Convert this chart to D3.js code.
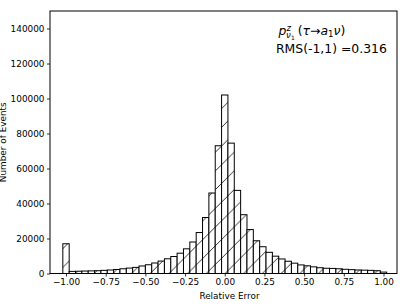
<!DOCTYPE html>
<html>
<head>
<meta charset="utf-8">
<script src="https://cdn.jsdelivr.net/npm/d3@7"></script>
<style>
  html, body { margin: 0; padding: 0; background: #fff; }
  svg { display: block; }
  text { font-family: "DejaVu Sans", sans-serif; }
</style>
</head>
<body>
<script>
// ---- data ----
const binCenters = [-1.00, -0.96, -0.92, -0.88, -0.84, -0.80, -0.76, -0.72, -0.68, -0.64,
  -0.60, -0.56, -0.52, -0.48, -0.44, -0.40, -0.36, -0.32, -0.28, -0.24,
  -0.20, -0.16, -0.12, -0.08, -0.04, 0.00, 0.04, 0.08, 0.12, 0.16,
  0.20, 0.24, 0.28, 0.32, 0.36, 0.40, 0.44, 0.48, 0.52, 0.56,
  0.60, 0.64, 0.68, 0.72, 0.76, 0.80, 0.84, 0.88, 0.92, 0.96, 1.00];
const counts = [17000, 1200, 1300, 1400, 1500, 1600, 1800, 2000, 2300, 2700,
  3100, 3500, 4300, 5000, 6000, 7100, 8400, 9700, 11600, 14100,
  18000, 23400, 32000, 46000, 73000, 102000, 74500, 47500, 33600, 25100,
  18700, 15300, 12100, 9900, 8300, 7000, 5900, 4900, 4400, 3800,
  3300, 3000, 2900, 2700, 2400, 2200, 2000, 1900, 1800, 1600, 800];
const binWidth = 0.04;
const xTicks = [-1.00, -0.75, -0.50, -0.25, 0.00, 0.25, 0.50, 0.75, 1.00];
const yTicks = [0, 20000, 40000, 60000, 80000, 100000, 120000, 140000];
const xLabel = "Relative Error";
const yLabel = "Number of Events";
const rmsText = "RMS(-1,1) =0.316";

// ---- layout ----
const W = 409, H = 306;
const L = 50, R = 397, T = 11, B = 273.5;

const svg = d3.select("body").append("svg").attr("width", W).attr("height", H);

const x = d3.scaleLinear().domain([-1.1008, 1.085]).range([L, R]);
const y = d3.scaleLinear().domain([0, 150000]).range([B, T]);

// hatch pattern (matplotlib-like "/" tiled in device space)
const hs = 18.7;
const defs = svg.append("defs");
const pat = defs.append("pattern")
  .attr("id", "hatch")
  .attr("patternUnits", "userSpaceOnUse")
  .attr("x", 12.3).attr("y", 0)
  .attr("width", hs).attr("height", hs);
pat.append("rect").attr("width", hs).attr("height", hs).attr("fill", "#fff");
pat.append("path")
  .attr("d", `M-2,${hs + 2} L${hs + 2},-2 M-2,2 L2,-2 M${hs - 2},${hs + 2} L${hs + 2},${hs - 2}`)
  .attr("stroke", "#000").attr("stroke-width", 0.8).attr("fill", "none");

// bars
const bars = binCenters.map((c, i) => ({ c, v: counts[i] }));
svg.append("g").selectAll("rect").data(bars).enter().append("rect")
  .attr("x", d => x(d.c - binWidth / 2))
  .attr("width", d => x(d.c + binWidth / 2) - x(d.c - binWidth / 2))
  .attr("y", d => y(d.v))
  .attr("height", d => y(0) - y(d.v))
  .attr("fill", "url(#hatch)")
  .attr("stroke", "#000")
  .attr("stroke-width", 1);

// axes
const fs = 8.9;
const xAxis = svg.append("g").attr("transform", `translate(0,${B})`)
  .call(d3.axisBottom(x).tickValues(xTicks).tickFormat(d3.format(".2f")).tickSize(3).tickPadding(2.5));
const yAxis = svg.append("g").attr("transform", `translate(${L},0)`)
  .call(d3.axisLeft(y).tickValues(yTicks).tickFormat(d3.format("d")).tickSize(3).tickPadding(2.5));
[xAxis, yAxis].forEach(g => {
  g.select(".domain").remove();
  g.selectAll("line").attr("stroke", "#000").attr("stroke-width", 0.8);
  g.selectAll("text").attr("font-size", fs).attr("fill", "#000")
    .style("font-family", "'DejaVu Sans', sans-serif");
});

// frame
svg.append("rect").attr("x", L).attr("y", T).attr("width", R - L).attr("height", B - T)
  .attr("fill", "none").attr("stroke", "#000").attr("stroke-width", 1);

// axis labels
svg.append("text").attr("x", (L + R) / 2 + 6).attr("y", 299)
  .attr("text-anchor", "middle").attr("font-size", fs).text(xLabel);
svg.append("text").attr("transform", `translate(5.5,${(T + B) / 2}) rotate(-90)`)
  .attr("text-anchor", "middle").attr("font-size", fs).text(yLabel);

// annotation
const ann = svg.append("text").attr("x", 278.5).attr("y", 35).attr("font-size", 12.4);
ann.append("tspan").attr("font-style", "italic").text("p");
ann.append("tspan").attr("font-style", "italic").attr("font-size", 8.6).attr("dy", -4.5).text("z");
ann.append("tspan").attr("font-style", "italic").attr("font-size", 8.6).attr("dx", -4.8).attr("dy", 7.5).text("ν");
ann.append("tspan").attr("font-size", 6).attr("dy", 1.5).text("1");
ann.append("tspan").attr("dy", -4.5).attr("dx", 3).text("(");
ann.append("tspan").attr("font-style", "italic").text("τ");
ann.append("tspan").text("→");
ann.append("tspan").attr("font-style", "italic").text("a");
ann.append("tspan").attr("font-size", 8.6).attr("dy", 2).text("1");
ann.append("tspan").attr("font-style", "italic").attr("dy", -2).text("ν");
ann.append("tspan").text(")");

svg.append("text").attr("x", 276).attr("y", 53.3).attr("font-size", 12.4).text(rmsText);
</script>
</body>
</html>
